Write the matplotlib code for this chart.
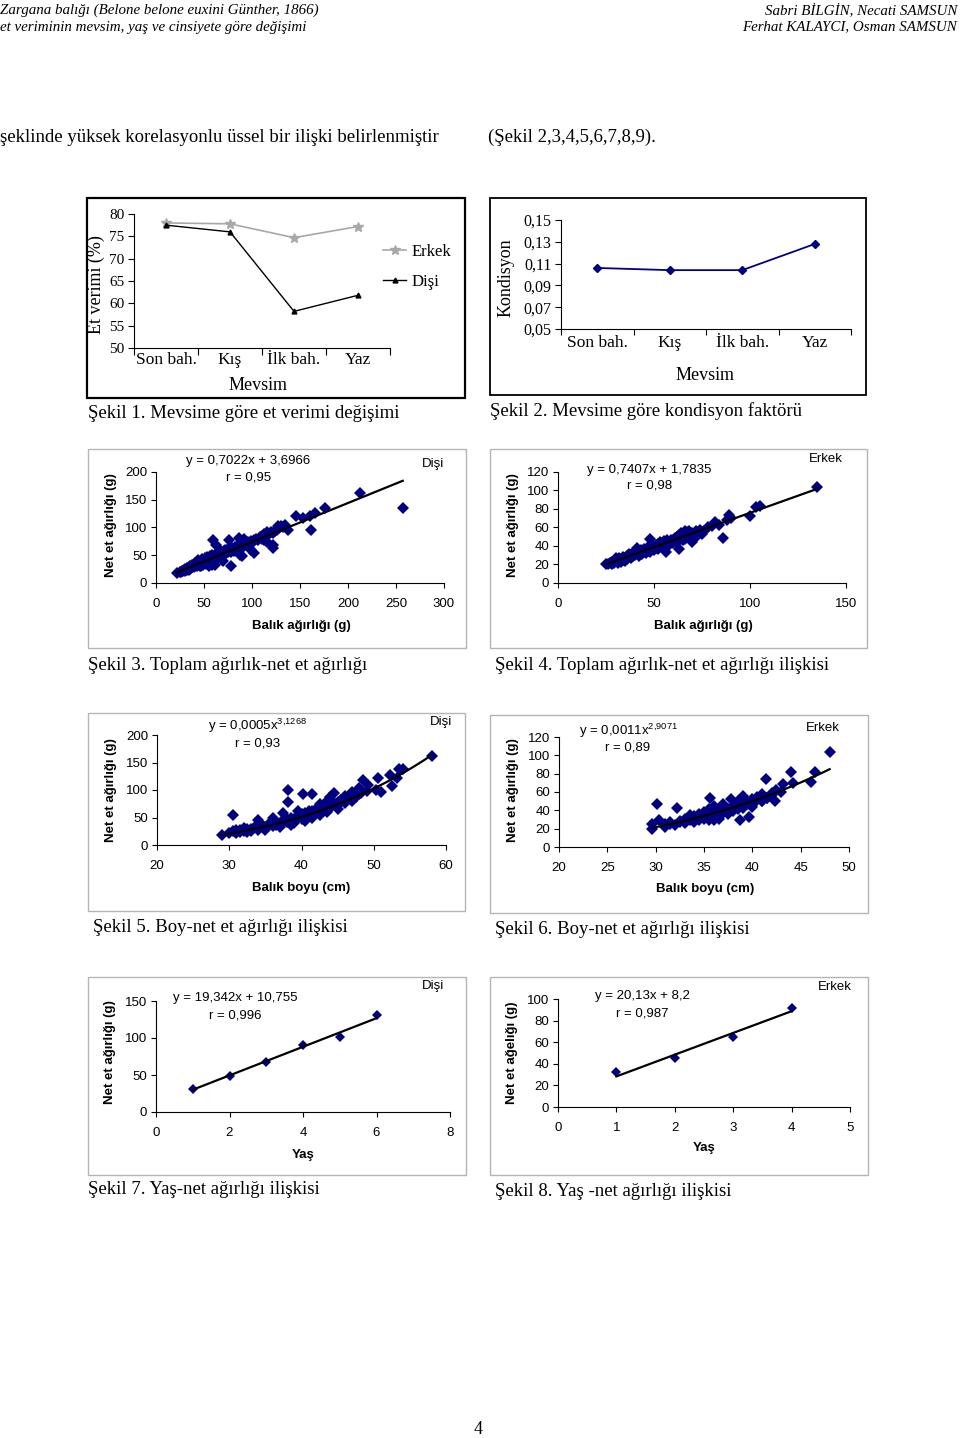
import matplotlib
matplotlib.use("Agg")
import matplotlib.pyplot as plt
from matplotlib.patches import Rectangle
import numpy as np

plt.rcParams['mathtext.fontset'] = 'custom'
plt.rcParams['mathtext.rm'] = 'Liberation Sans'
plt.rcParams['mathtext.it'] = 'Liberation Sans'

W, H = 960, 1438
SERIF = 'Liberation Serif'
SANS = 'Liberation Sans'
NAVY = '#000080'

# Sekil 1 / 2
mevsim = ["Son bah.", "Kış", "İlk bah.", "Yaz"]
et_verimi_erkek = [78.0, 77.8, 74.7, 77.2]
et_verimi_disi = [77.5, 76.0, 58.2, 61.8]
kondisyon = [0.106, 0.104, 0.104, 0.128]

# Sekil 3: disi, balik agirligi - net et agirligi
agirlik_disi_x = [22, 25, 26, 27, 28, 29, 30, 30, 31, 32,
                  32, 33, 34, 34, 35, 35, 36, 37, 37, 38,
                  38, 39, 40, 40, 41, 41, 42, 43, 43, 44,
                  44, 45, 45, 46, 46, 47, 47, 48, 48, 49,
                  49, 50, 50, 51, 51, 52, 52, 53, 53, 54,
                  55, 55, 56, 56, 57, 57, 58, 58, 59, 60,
                  60, 61, 61, 62, 62, 63, 63, 64, 65, 65,
                  66, 67, 67, 68, 69, 70, 70, 71, 72, 72,
                  73, 74, 75, 75, 76, 77, 78, 78, 79, 80,
                  81, 82, 83, 84, 85, 86, 87, 88, 89, 90,
                  91, 92, 94, 95, 96, 98, 99, 100, 102, 102,
                  104, 106, 108, 110, 112, 113, 115, 116, 118, 120,
                  122, 124, 126, 128, 130, 132, 134, 137, 127, 110,
                  146, 153, 160, 161, 166, 176, 212, 257, 59, 63,
                  76, 78, 86, 87, 90, 99, 102, 113, 116, 122,
                  122, 47, 61, 55, 70, 92]
agirlik_disi_y = [18, 20, 19, 22, 21, 23, 22, 26, 24, 23,
                  27, 25, 28, 24, 30, 26, 27, 29, 33, 28,
                  31, 30, 33, 28, 36, 31, 34, 30, 38, 35,
                  41, 33, 38, 36, 30, 40, 34, 37, 44, 39,
                  32, 41, 36, 45, 38, 40, 34, 43, 47, 39,
                  44, 36, 48, 41, 45, 38, 50, 33, 43, 47,
                  41, 50, 44, 46, 52, 48, 42, 53, 49, 56,
                  51, 47, 55, 58, 52, 54, 49, 57, 53, 60,
                  56, 59, 55, 62, 58, 61, 56, 64, 60, 62,
                  58, 64, 61, 66, 63, 68, 65, 70, 62, 67,
                  71, 68, 72, 69, 74, 71, 76, 73, 78, 75,
                  79, 77, 82, 85, 83, 88, 86, 91, 89, 92,
                  90, 94, 96, 99, 103, 101, 104, 96, 102, 80,
                  121, 117, 120, 96, 127, 136, 162, 135, 78, 69,
                  78, 30, 81, 51, 48, 60, 54, 78, 74, 69,
                  63, 30, 33, 31, 40, 80]
fit_agirlik_disi = (0.7022, 3.6966)

# Sekil 4: erkek, balik agirligi - net et agirligi
agirlik_erkek_x = [25, 26, 27, 28, 28, 29, 30, 30, 31, 31,
                   32, 32, 33, 33, 34, 34, 35, 35, 36, 36,
                   37, 37, 38, 38, 39, 39, 40, 40, 41, 41,
                   42, 42, 43, 43, 44, 44, 45, 45, 46, 46,
                   47, 47, 48, 48, 49, 49, 50, 50, 51, 51,
                   52, 52, 53, 53, 54, 54, 55, 55, 56, 57,
                   57, 58, 58, 59, 60, 60, 61, 61, 62, 62,
                   63, 63, 64, 64, 65, 65, 66, 66, 67, 68,
                   68, 69, 70, 70, 71, 72, 72, 73, 74, 75,
                   76, 78, 80, 82, 84, 86, 88, 89, 90, 100,
                   103, 105, 135, 70, 66]
agirlik_erkek_y = [20, 21, 22, 20, 23, 22, 24, 27, 22, 25,
                   24, 27, 26, 23, 25, 28, 27, 24, 29, 26,
                   28, 31, 27, 30, 29, 32, 30, 35, 38, 32,
                   29, 34, 33, 36, 31, 35, 34, 37, 32, 36,
                   35, 39, 33, 48, 37, 40, 36, 39, 41, 38,
                   37, 42, 40, 44, 39, 43, 41, 45, 34, 42,
                   46, 44, 41, 47, 43, 46, 45, 49, 44, 50,
                   37, 52, 48, 54, 46, 50, 53, 48, 55, 51,
                   56, 49, 47, 54, 52, 56, 50, 55, 57, 53,
                   56, 60, 62, 66, 63, 49, 68, 73, 70, 72,
                   82, 83, 104, 44, 56]
fit_agirlik_erkek = (0.7407, 1.7835)

# Sekil 5: disi, balik boyu - net et agirligi
boy_disi_x = [29, 30, 30.5, 31, 31, 31.5, 32, 32, 32.5, 33,
              33, 33.5, 34, 34, 34.5, 35, 35, 35.5, 36, 36,
              36.5, 37, 37, 37.5, 38, 38, 38.5, 39, 39, 39.5,
              40, 40, 40.5, 41, 41, 41.5, 42, 42, 42.5, 43,
              43, 43.5, 44, 44, 44.5, 45, 45, 45.5, 46, 46,
              46.5, 47, 47, 47.5, 48, 48, 49, 30.5, 38.1, 38.1,
              40.2, 48.2, 48.5, 49.2, 50.3, 50.6, 51, 52.2, 52.5, 53.2,
              53.5, 54, 58, 41.5, 42.5, 37.5, 36, 39.5, 44.5, 43.5,
              31.5, 32.5, 33.5, 34.5, 35.5, 36.5, 37.5, 38.5, 39.5, 40.5,
              41.5, 42.5, 43.5, 44.5, 45.5, 46.5, 47.5, 34, 36, 38,
              40, 42, 44, 46, 33, 35, 37, 39, 41, 43,
              45, 47]
boy_disi_y = [18, 22, 25, 21, 28, 24, 26, 31, 23, 29,
              25, 32, 28, 45, 35, 31, 27, 38, 34, 41,
              36, 39, 33, 44, 41, 48, 37, 46, 40, 52,
              48, 56, 44, 53, 62, 50, 58, 66, 55, 63,
              70, 60, 68, 88, 72, 65, 78, 82, 76, 90,
              84, 80, 97, 88, 92, 104, 98, 54, 100, 79,
              92, 94, 118, 109, 100, 121, 97, 127, 108, 121,
              138, 138, 162, 92, 74, 58, 50, 62, 94, 80,
              27, 30, 33, 36, 39, 42, 46, 50, 54, 58,
              62, 67, 72, 77, 82, 88, 93, 30, 36, 43,
              51, 59, 69, 79, 27, 32, 38, 45, 52, 62,
              72, 82]
fit_boy_disi = (0.0005, 3.1268)

# Sekil 6: erkek, balik boyu - net et agirligi
boy_erkek_x = [29.6, 29.6, 30.1, 30.3, 31, 31, 31.5, 32, 32.2, 32.5,
               33, 33, 33.5, 34, 34, 34.5, 34.5, 35, 35, 35.5,
               35.5, 35.6, 36, 36, 36.5, 36.5, 37, 37, 37.5, 37.8,
               38, 38, 38.5, 38.5, 38.7, 39, 39, 39.5, 39.7, 40,
               40, 40.5, 41, 41, 41.4, 41.5, 42, 42.3, 42.5, 43,
               43.2, 44, 44.2, 46.1, 46.5, 48, 36, 37, 39, 33.5,
               31.5, 32.5, 33, 33.5, 34, 34.5, 35, 35.5, 36, 36.5,
               37, 37.5, 38, 38.5, 39, 39.5, 40, 40.5, 41, 41.5,
               42, 33, 35, 37, 39, 41, 36, 38, 40]
boy_erkek_y = [20, 25, 47, 29, 22, 25, 27, 24, 43, 28,
               26, 31, 29, 27, 34, 30, 36, 32, 38, 29,
               41, 53, 34, 45, 38, 31, 40, 47, 36, 52,
               44, 39, 50, 42, 29, 46, 53, 48, 33, 51,
               44, 55, 50, 58, 74, 53, 57, 50, 62, 60,
               69, 82, 70, 71, 82, 104, 30, 43, 56, 35,
               25, 27, 30, 31, 33, 33, 36, 36, 39, 38,
               42, 41, 45, 44, 48, 47, 52, 51, 55, 54,
               59, 27, 31, 37, 43, 50, 33, 40, 46]
fit_boy_erkek = (0.0011, 2.9071)

# Sekil 7 / 8: yas - net et agirligi
yas_disi = [1, 2, 3, 4, 5, 6]
net_disi = [31, 49, 68, 90, 102, 131]
fit_yas_disi = (19.342, 10.755)
yas_erkek = [1, 2, 3, 4]
net_erkek = [32, 45, 65, 92]
fit_yas_erkek = (20.13, 8.2)

fig = plt.figure(figsize=(W / 100, H / 100), dpi=100)


def px_axes(box):
    x0, y0, x1, y1 = box
    return fig.add_axes([x0 / W, 1 - y1 / H, (x1 - x0) / W, (y1 - y0) / H])


def frame(x0, y0, x1, y1, color, lw):
    fig.add_artist(Rectangle((x0 / W, 1 - y1 / H), (x1 - x0) / W, (y1 - y0) / H,
                             transform=fig.transFigure, fill=False,
                             edgecolor=color, linewidth=lw))


def ftext(x, y, s, **kw):
    kw.setdefault('va', 'center')
    fig.text(x / W, 1 - y / H, s, **kw)


def axfrac(box, x, y):
    x0, y0, x1, y1 = box
    return (x - x0) / (x1 - x0), (y1 - y) / (y1 - y0)


def put_labels(ax, box, xlabel, xpos, ylabel, ypos, **font):
    ax.set_xlabel(xlabel, **font)
    ax.xaxis.set_label_coords(*axfrac(box, *xpos))
    ax.xaxis.label.set_va('center')
    ax.set_ylabel(ylabel, **font)
    ax.yaxis.set_label_coords(*axfrac(box, *ypos))
    ax.yaxis.label.set_va('center')


def ax_text(ax, box, x, y, s, **kw):
    fx, fy = axfrac(box, x, y)
    ax.text(fx, fy, s, transform=ax.transAxes, va='center', clip_on=False, **kw)


# ---------- page text ----------
hdr = dict(family=SERIF, style='italic', fontsize=10.8)
ftext(0, 10, "Zargana balığı (Belone belone euxini Günther, 1866)", ha='left', **hdr)
ftext(0, 27, "et veriminin mevsim, yaş ve cinsiyete göre değişimi", ha='left', **hdr)
ftext(957, 10, "Sabri BİLGİN, Necati SAMSUN", ha='right', **hdr)
ftext(957, 27, "Ferhat KALAYCI, Osman SAMSUN", ha='right', **hdr)

body = dict(family=SERIF, fontsize=13.5, ha='left')
ftext(0, 137, "şeklinde yüksek korelasyonlu üssel bir ilişki belirlenmiştir", **body)
ftext(488, 137, "(Şekil 2,3,4,5,6,7,8,9).", **body)

ftext(88, 414, "Şekil 1. Mevsime göre et verimi değişimi", **body)
ftext(490, 411, "Şekil 2. Mevsime göre kondisyon faktörü", **body)
ftext(88, 665, "Şekil 3. Toplam ağırlık-net et ağırlığı", **body)
ftext(495, 665, "Şekil 4. Toplam ağırlık-net et ağırlığı ilişkisi", **body)
ftext(93, 927, "Şekil 5. Boy-net et ağırlığı ilişkisi", **body)
ftext(495, 930, "Şekil 6. Boy-net et ağırlığı ilişkisi", **body)
ftext(88, 1190, "Şekil 7. Yaş-net ağırlığı ilişkisi", **body)
ftext(495, 1191, "Şekil 8. Yaş -net ağırlığı ilişkisi", **body)
ftext(478, 1430, "4", family=SERIF, fontsize=13, ha='center')

# ---------- Sekil 1 ----------
frame(87, 198, 465, 398, 'black', 1.6)
b1 = (134, 214, 390, 348)
ax1 = px_axes(b1)
cat = np.arange(len(mevsim))
ax1.plot(cat, et_verimi_erkek, color='#a8a8a8', lw=1.2, marker='*', ms=7,
         markeredgecolor='#a8a8a8', label='Erkek')
ax1.plot(cat, et_verimi_disi, color='black', lw=1.0, marker='^', ms=3.5, label='Dişi')
ax1.set_xlim(-0.5, 3.5)
ax1.set_ylim(50, 80)
ax1.set_yticks(range(50, 81, 5))
ax1.set_xticks(np.arange(-0.5, 4, 1))
ax1.set_xticklabels([])
ax1.set_xticks(cat, minor=True)
ax1.set_xticklabels(mevsim, minor=True, family=SERIF, fontsize=12.5)
ax1.tick_params(axis='x', which='minor', length=0, pad=3)
ax1.tick_params(axis='x', which='major', length=5, direction='out')
ax1.tick_params(axis='y', length=4, direction='out', labelsize=11, pad=3)
for t in ax1.get_yticklabels():
    t.set_family(SERIF)
for s in ('top', 'right'):
    ax1.spines[s].set_visible(False)
put_labels(ax1, b1, "Mevsim", (258, 386), "Et verimi (%)", (96, 285),
           family=SERIF, fontsize=13)
ax1.legend(loc='center left', bbox_to_anchor=axfrac(b1, 383, 267), frameon=False,
           borderaxespad=0, borderpad=0, handlelength=1.4, handletextpad=0.3,
           labelspacing=0.85, prop=dict(family=SERIF, size=12))

# ---------- Sekil 2 ----------
frame(490, 198, 866, 395, 'black', 1.3)
b2 = (561, 220, 851, 329)
ax2 = px_axes(b2)
ax2.plot(cat, kondisyon, color=NAVY, lw=1.3, marker='D', ms=4.5)
ax2.set_xlim(-0.5, 3.5)
ax2.set_ylim(0.05, 0.15)
yt2 = [0.05, 0.07, 0.09, 0.11, 0.13, 0.15]
ax2.set_yticks(yt2)
ax2.set_yticklabels([f"{v:.2f}".replace('.', ',') for v in yt2], family=SERIF, fontsize=11.5)
ax2.set_xticks(np.arange(-0.5, 4, 1))
ax2.set_xticklabels([])
ax2.set_xticks(cat, minor=True)
ax2.set_xticklabels(mevsim, minor=True, family=SERIF, fontsize=12.5)
ax2.tick_params(axis='x', which='minor', length=0, pad=4)
ax2.tick_params(axis='x', which='major', length=4, direction='out')
ax2.tick_params(axis='y', length=4, direction='out', pad=3)
for s in ('top', 'right'):
    ax2.spines[s].set_visible(False)
put_labels(ax2, b2, "Mevsim", (705, 375), "Kondisyon", (506, 278),
           family=SERIF, fontsize=13)

# ---------- Sekil 3-8 ----------
GRAY = '#b4b4b4'
lab = dict(family=SANS, fontsize=9.5, fontweight='bold')
txt = dict(family=SANS, fontsize=9.5, ha='center')


def scatter_panel(fbox, box, xs, ys, xlim, xstep, ylim, ystep, trend, power,
                  eq, eq_pos, r, r_pos, sex, sex_pos, xlabel, xpos, ylabel, ypos, ms=6):
    frame(*fbox, GRAY, 1.0)
    ax = px_axes(box)
    ax.plot(xs, ys, linestyle='none', marker='D', ms=ms, color=NAVY, markeredgewidth=0)
    a, b = trend
    xf = np.linspace(min(xs), max(xs), 100)
    yf = a * xf ** b if power else a * xf + b
    ax.plot(xf, yf, color='black', lw=1.6)
    ax.set_xlim(*xlim)
    ax.set_ylim(*ylim)
    ax.set_xticks(np.arange(xlim[0], xlim[1] + xstep / 2, xstep))
    ax.set_yticks(np.arange(ylim[0], ylim[1] + ystep / 2, ystep))
    ax.tick_params(direction='out', length=3.5, width=0.8, labelsize=9.5)
    ax.tick_params(axis='x', pad=7)
    ax.tick_params(axis='y', pad=3)
    for t in ax.get_xticklabels() + ax.get_yticklabels():
        t.set_family(SANS)
    for s in ('top', 'right'):
        ax.spines[s].set_visible(False)
    for s in ('left', 'bottom'):
        ax.spines[s].set_linewidth(0.8)
    put_labels(ax, box, xlabel, xpos, ylabel, ypos, **lab)
    ax_text(ax, box, *eq_pos, eq, **txt)
    ax_text(ax, box, *r_pos, r, **txt)
    ax_text(ax, box, *sex_pos, sex, **txt)
    return ax


scatter_panel((88, 449, 466, 648), (156, 472, 444, 583), agirlik_disi_x, agirlik_disi_y,
              (0, 300), 50, (0, 200), 50, fit_agirlik_disi, False,
              "y = 0,7022x + 3,6966", (248, 461), "r = 0,95", (249, 478),
              "Dişi", (433, 464), "Balık ağırlığı (g)", (301, 626),
              "Net et ağırlığı (g)", (111, 525))

scatter_panel((490, 449, 867, 648), (558, 472, 846, 583), agirlik_erkek_x, agirlik_erkek_y,
              (0, 150), 50, (0, 120), 20, fit_agirlik_erkek, False,
              "y = 0,7407x + 1,7835", (649, 470), "r = 0,98", (650, 486),
              "Erkek", (826, 459), "Balık ağırlığı (g)", (703, 626),
              "Net et ağırlığı (g)", (513, 525))

scatter_panel((88, 713, 465, 911), (157, 735, 446, 845), boy_disi_x, boy_disi_y,
              (20, 60), 10, (0, 200), 50, fit_boy_disi, True,
              "y = 0,0005x$^{3{,}1268}$", (257, 726), "r = 0,93", (258, 744),
              "Dişi", (441, 722), "Balık boyu (cm)", (301, 888),
              "Net et ağırlığı (g)", (111, 790))

scatter_panel((490, 715, 868, 913), (559, 737, 849, 847), boy_erkek_x, boy_erkek_y,
              (20, 50), 5, (0, 120), 20, fit_boy_erkek, True,
              "y = 0,0011x$^{2{,}9071}$", (628, 731), "r = 0,89", (628, 748),
              "Erkek", (823, 728), "Balık boyu (cm)", (705, 889),
              "Net et ağırlığı (g)", (513, 790))

scatter_panel((88, 977, 466, 1175), (156, 1001, 450, 1112), yas_disi, net_disi,
              (0, 8), 2, (0, 150), 50, fit_yas_disi, False,
              "y = 19,342x + 10,755", (235, 998), "r = 0,996", (235, 1015),
              "Dişi", (433, 986), "Yaş", (303, 1155),
              "Net et ağırlığı (g)", (110, 1052), ms=5.5)

scatter_panel((490, 977, 868, 1175), (558, 999, 850, 1107), yas_erkek, net_erkek,
              (0, 5), 1, (0, 100), 20, fit_yas_erkek, False,
              "y = 20,13x + 8,2", (642, 996), "r = 0,987", (642, 1013),
              "Erkek", (835, 987), "Yaş", (704, 1148),
              "Net et ağelığı (g)", (512, 1053), ms=5.5)

fig.savefig("out.png", dpi=100, facecolor='white')
